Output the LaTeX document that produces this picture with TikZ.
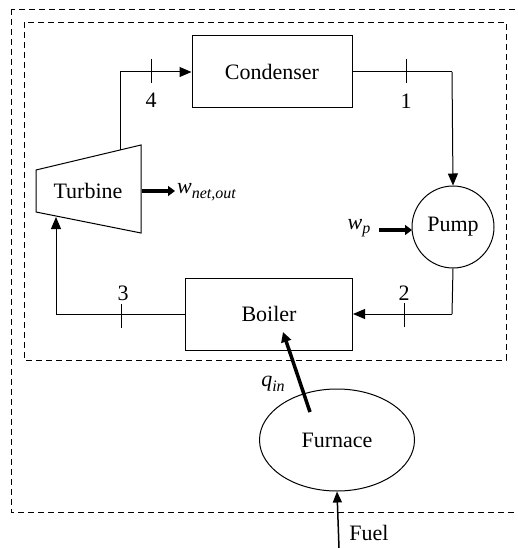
\documentclass[tikz,border=0pt]{standalone}
\usepackage{fontspec}
\setmainfont{Liberation Serif}
\usetikzlibrary{arrows.meta,shapes.geometric}
\newcommand{\sbs}[1]{\raisebox{-0.45ex}{\fontsize{16}{18}\selectfont\textit{#1}}}
\begin{document}
\begin{tikzpicture}[x=1pt,y=-1pt,
  lbl/.style={font=\fontsize{22}{26}\selectfont, inner sep=0pt},
  comp/.style={draw, line width=1pt, lbl},
  flow/.style={line width=1pt, -{Triangle[length=12pt,width=10pt]}},
  pipe/.style={line width=1pt},
  tick/.style={line width=1pt},
  work/.style={line width=3.5pt, -{Triangle[length=7pt,width=10pt]}},
  bound/.style={line width=0.9pt, dash pattern=on 6pt off 4pt}]
\useasboundingbox (0,0) rectangle (518,548);
% boundaries
\draw[bound] (11,9) rectangle (530,512);
\draw[bound] (24,22) rectangle (506,360);
% components
\node[comp, minimum width=160pt, minimum height=72pt] (cond) at (272,72) {Condenser};
\node[comp, minimum width=167pt, minimum height=72pt] (boil) at (269,314) {Boiler};
\node[comp, circle, minimum size=82pt] (pump) at (453,227) {Pump};
\node[comp, ellipse, minimum width=155pt, minimum height=102pt] (furn) at (337,440) {Furnace};
\draw[line width=1pt] (36,170) -- (141,145) -- (141,233) -- (36,212) -- cycle;
\node[lbl] (turb) at (88,191) {Turbine};
\coordinate (tout) at (120,150);
\coordinate (tin) at (56,217);
\coordinate (tr) at (142,191);
% loop
\coordinate (c4) at (120,72);
\draw[flow] (tout) -- (c4) -- (cond.west);
\coordinate (c1) at (452,72);
\draw[pipe] (cond.east) -- (c1);
\draw[flow] (c1) -- (pump.north);
\coordinate (c2) at (452,314);
\draw[pipe] (pump.south) -- (c2);
\draw[flow] (c2) -- (boil.east);
\coordinate (c3) at (56,314);
\draw[pipe] (boil.west) -- (c3);
\draw[flow] (c3) -- (tin);
% state ticks
\draw[tick] (151,59) -- (151,83);
\draw[tick] (406,59) -- (406,83);
\draw[tick] (121,304) -- (121,328);
\draw[tick] (404,303) -- (404,327);
\node[lbl] (n4) at (151,100) {4};
\node[lbl] (n1) at (406,101) {1};
\node[lbl] (n3) at (123,293) {3};
\node[lbl] (n2) at (404,293) {2};
% work and heat
\coordinate (wend) at (175,191);
\draw[work] (tr) -- (wend);
\node[lbl, anchor=west] (wnet) at (177,192) {\textit{w}\sbs{net,out}};
\coordinate (wpst) at (379,230);
\coordinate (wpend) at (412,230);
\draw[work] (wpst) -- (wpend);
\node[lbl] (wp) at (359,228) {\textit{w}\sbs{p}};
\coordinate (qst) at (310,412);
\coordinate (qend) at (283,332);
\draw[work, -{Triangle[length=10pt,width=10pt]}] (qst) -- (qend);
\node[lbl] (qin) at (273,384) {\textit{q}\sbs{in}};
\coordinate (fst) at (339,548);
\draw[line width=1.5pt, -{Triangle[length=11pt,width=9pt]}] (fst) -- (furn.south);
\node[lbl] (fuel) at (369,533) {Fuel};
\end{tikzpicture}
\end{document}
